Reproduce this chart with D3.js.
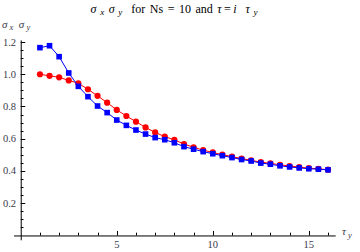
<!DOCTYPE html>
<meta charset="utf-8">
<style>
body { margin: 0; background: #fff; }
svg { display: block; font-family: "Liberation Serif", "DejaVu Serif", serif; }
.tick-label { font-size: 10.5px; fill: #3a3a4a; }
</style>
<svg width="360" height="252"></svg>
<script src="https://d3js.org/d3.v7.min.js"></script>
<script>

// tau_y values, 1 to 16 in steps of 0.5
var tau = [1, 1.5, 2, 2.5, 3, 3.5, 4, 4.5, 5, 5.5, 6, 6.5, 7, 7.5, 8, 8.5,
	9, 9.5, 10, 10.5, 11, 11.5, 12, 12.5, 13, 13.5, 14, 14.5, 15, 15.5, 16];

// red circles
var redVals = [1.000, 0.990, 0.981, 0.962, 0.944, 0.907, 0.866, 0.824, 0.779, 0.741,
	0.706, 0.670, 0.639, 0.613, 0.593, 0.567, 0.547, 0.529, 0.515, 0.501,
	0.489, 0.477, 0.466, 0.455, 0.447, 0.438, 0.431, 0.424, 0.418, 0.413, 0.408];

// blue squares
var blueVals = [1.165, 1.177, 1.109, 1.008, 0.925, 0.861, 0.803, 0.762, 0.716, 0.683,
	0.654, 0.629, 0.607, 0.594, 0.575, 0.551, 0.535, 0.520, 0.507, 0.495,
	0.483, 0.471, 0.462, 0.449, 0.442, 0.432, 0.425, 0.419, 0.414, 0.411, 0.407];

var xMajor = [5, 10, 15];
var yMajor = [0.2, 0.4, 0.6, 0.8, 1.0, 1.2];

var svg = d3.select("svg");

var x = d3.scaleLinear().domain([-0.35, 16.4]).range([14, 335.7]);
var y = d3.scaleLinear().domain([-0.03, 1.21]).range([240.3, 40.4]);

var axisColor = "#000";

// axes lines
svg.append("line")
	.attr("x1", x(-0.35)).attr("x2", x(16.4))
	.attr("y1", y(0) + 0.5).attr("y2", y(0) + 0.5)
	.attr("stroke", axisColor).attr("stroke-width", 1);
svg.append("line")
	.attr("x1", x(0) + 0.5).attr("x2", x(0) + 0.5)
	.attr("y1", y(-0.03)).attr("y2", y(1.21))
	.attr("stroke", axisColor).attr("stroke-width", 1);

// x ticks (every 1, major at multiples of 5)
var xTicks = d3.range(1, 17);
svg.append("g").selectAll("line")
	.data(xTicks)
	.enter().append("line")
	.attr("x1", function(d) { return Math.round(x(d)) + 0.5; })
	.attr("x2", function(d) { return Math.round(x(d)) + 0.5; })
	.attr("y1", y(0))
	.attr("y2", function(d) { return y(0) - (d % 5 === 0 ? 4.5 : 2.8); })
	.attr("stroke", axisColor);

svg.append("g").selectAll("text")
	.data(xMajor)
	.enter().append("text")
	.attr("class", "tick-label")
	.attr("x", function(d) { return x(d); })
	.attr("y", y(0) + 13)
	.attr("text-anchor", "middle")
	.text(function(d) { return d; });

// y ticks (every 0.05, major at 0.2)
var yTicks = d3.range(1, 25).map(function(i) { return i * 0.05; });
svg.append("g").selectAll("line")
	.data(yTicks)
	.enter().append("line")
	.attr("x1", x(0))
	.attr("x2", function(d, i) { return x(0) + ((i + 1) % 4 === 0 ? 4.5 : 2.8); })
	.attr("y1", function(d) { return Math.round(y(d)) + 0.5; })
	.attr("y2", function(d) { return Math.round(y(d)) + 0.5; })
	.attr("stroke", axisColor);

svg.append("g").selectAll("text")
	.data(yMajor)
	.enter().append("text")
	.attr("class", "tick-label")
	.attr("x", 16)
	.attr("y", function(d) { return y(d) + 3.5; })
	.attr("text-anchor", "end")
	.text(function(d) { return d.toFixed(1); });

// series
var line = d3.line()
	.x(function(d) { return x(d[0]); })
	.y(function(d) { return y(d[1]); });

var red = d3.zip(tau, redVals);
var blue = d3.zip(tau, blueVals);

svg.append("path")
	.datum(red)
	.attr("d", line)
	.attr("fill", "none")
	.attr("stroke", "#ff0000")
	.attr("stroke-width", 1);

svg.append("g").selectAll("circle")
	.data(red)
	.enter().append("circle")
	.attr("cx", function(d) { return x(d[0]); })
	.attr("cy", function(d) { return y(d[1]); })
	.attr("r", 3.1)
	.attr("fill", "#ff0000");

svg.append("path")
	.datum(blue)
	.attr("d", line)
	.attr("fill", "none")
	.attr("stroke", "#0000ff")
	.attr("stroke-width", 1);

svg.append("g").selectAll("rect")
	.data(blue)
	.enter().append("rect")
	.attr("x", function(d) { return x(d[0]) - 2.8; })
	.attr("y", function(d) { return y(d[1]) - 2.8; })
	.attr("width", 5.6)
	.attr("height", 5.6)
	.attr("fill", "#0000ff");

// title
var title = svg.append("text")
	.attr("x", 174)
	.attr("y", 12.5)
	.attr("text-anchor", "middle")
	.style("font-size", "12px")
	.style("word-spacing", "1.5px")
	.attr("fill", "#000");
title.append("tspan").style("font-style", "italic").text("σ");
title.append("tspan").style("font-style", "italic").style("font-size", "9px").attr("dy", 2.5).text(" x");
title.append("tspan").style("font-style", "italic").attr("dy", -2.5).text(" σ");
title.append("tspan").style("font-style", "italic").style("font-size", "9px").attr("dy", 2.5).text(" y");
title.append("tspan").attr("dy", -2.5).text("\u00a0\u00a0for Ns = 10 and ");
title.append("tspan").style("font-style", "italic").text("τ");
title.append("tspan").text("\u2009=\u2009");
title.append("tspan").style("font-style", "italic").text("i");
title.append("tspan").style("font-style", "italic").text("\u00a0\u00a0τ");
title.append("tspan").style("font-style", "italic").style("font-size", "9px").attr("dy", 2.5).text(" y");

// y axis label
var yLab = svg.append("text")
	.attr("x", 2)
	.attr("y", 28)
	.style("font-size", "11px")
	.attr("fill", "#3a3a4a");
yLab.append("tspan").style("font-style", "italic").text("σ");
yLab.append("tspan").style("font-style", "italic").style("font-size", "8.5px").attr("dy", 2).text(" x");
yLab.append("tspan").style("font-style", "italic").attr("dy", -2).text("\u00a0\u00a0σ");
yLab.append("tspan").style("font-style", "italic").style("font-size", "8.5px").attr("dy", 2).text(" y");

// x axis label
var xLab = svg.append("text")
	.attr("x", 342)
	.attr("y", 235)
	.style("font-size", "11px")
	.attr("fill", "#3a3a4a");
xLab.append("tspan").style("font-style", "italic").text("τ");
xLab.append("tspan").style("font-style", "italic").style("font-size", "8.5px").attr("dy", 3).text(" y");

</script>
